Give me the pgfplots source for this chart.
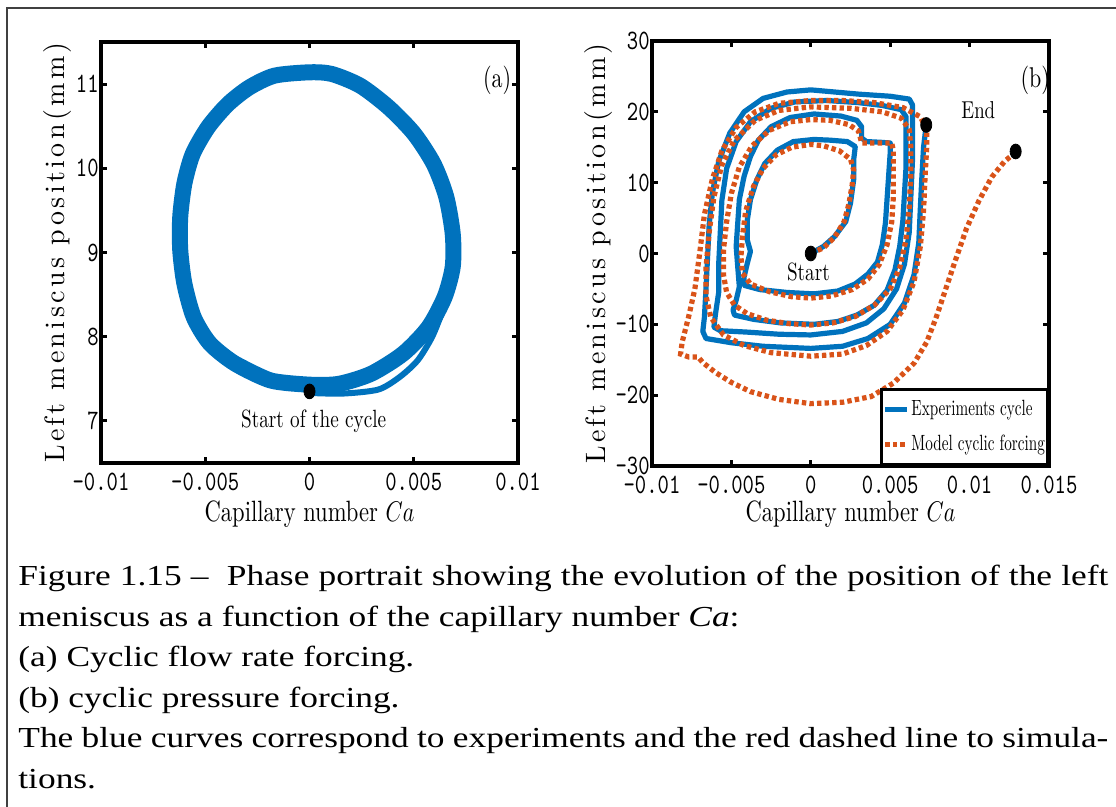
\documentclass[border=0pt]{standalone}
\usepackage{fontspec}
\usepackage{graphicx}
\usepackage{pgfplots}
\pgfplotsset{compat=1.18}
\newfontfamily\capfont[FakeStretch=1.22]{Liberation Serif}
\newfontfamily\lmten[ItalicFont=lmroman10-italic.otf]{lmroman10-regular.otf}
\newfontfamily\lsfont[LetterSpace=12]{lmroman10-regular.otf}
\definecolor{mblue}{RGB}{0,114,189}
\definecolor{mred}{RGB}{217,83,25}
\newcommand{\vs}[1]{\scalebox{1}[1.3]{#1}}
\newcommand{\vl}[1]{\scalebox{1}[1.45]{#1}}
\pgfplotsset{
  panel/.style={
    scale only axis, anchor=south west,
    axis line style={line width=2pt},
    tick style={black, line width=1.5pt},
    major tick length=3pt,
    tick align=inside,
    scaled x ticks=false, scaled y ticks=false,
    tick label style={font=\ttfamily\fontsize{10.8}{12}\selectfont},
    xticklabel style={yshift=-1.5pt},
    yticklabel style={inner xsep=1pt},
    label style={font=\lmten\fontsize{11.3}{13}\selectfont},
    ylabel style={font=\lsfont\fontsize{14}{16}\selectfont, anchor=center},
    clip=true,
  }
}
\begin{document}
\begin{tikzpicture}
\path[use as bounding box] (0,0) rectangle (558pt,403.5pt);
\draw[black!75, line width=0.9pt] (3.5pt,0) -- (3.5pt,399.5pt) -- (560pt,399.5pt);

% ---------------- panel (a)
\begin{axis}[panel, at={(50.5pt,172pt)}, width=208.5pt, height=210.5pt,
  xmin=-0.01, xmax=0.01, ymin=6.5, ymax=11.5,
  xtick={-0.01,-0.005,0,0.005,0.01}, ytick={7,8,9,10,11},
  xticklabels={\vs{-0.01},\vs{-0.005},\vs{0},\vs{0.005},\vs{0.01}},
  yticklabels={\vs{7},\vs{8},\vs{9},\vs{10},\vs{11}},
  xlabel={\vs{Capillary number $Ca$}},
  ylabel={Left meniscus position(mm)},
  xlabel style={at={(axis description cs:0.5,-0.139)}, anchor=base},
  ylabel style={at={(axis description cs:-0.105,0.5)}}]
\addplot[color=mblue, line width=8pt, smooth, tension=0.45] coordinates {
(0,7.43) (-0.00186,7.48) (-0.00357,7.68) (-0.00478,7.92) (-0.00555,8.23)
(-0.00600,8.63) (-0.00620,9.03) (-0.00620,9.42) (-0.00600,9.82) (-0.00560,10.17)
(-0.00486,10.49) (-0.00392,10.76) (-0.00289,10.96) (-0.00168,11.10) (0,11.14)
(0.00107,11.12) (0.00244,10.98) (0.00381,10.72) (0.00502,10.41) (0.00596,10.05)
(0.00656,9.66) (0.00687,9.22) (0.00687,8.83) (0.00648,8.47) (0.00570,8.11)
(0.00450,7.80) (0.00296,7.56) (0.00141,7.44) (0,7.43) (-0.00186,7.48) (-0.00357,7.68)};
\addplot[color=mblue, line width=3pt, smooth, tension=0.45] coordinates {
(0,7.332) (0.00158,7.324) (0.00330,7.372) (0.00433,7.522) (0.00519,7.719)
(0.00588,7.996) (0.00639,8.312) (0.00677,8.628) (0.00700,8.984) (0.00705,9.225)};
\addplot[only marks, mark=*, mark size=3.7pt, mark options={xscale=0.75, black}] coordinates {(0,7.35)};
\node[font=\lmten\fontsize{11}{13}\selectfont] at (axis cs:0.0090,11.04) {\vs{(a)}};
\node[font=\lmten\fontsize{9.6}{12}\selectfont] at (axis cs:0.0002,7.0) {\vs{Start of the cycle}};
\end{axis}

% ---------------- panel (b)
\begin{axis}[panel, at={(326pt,170.5pt)}, width=198.5pt, height=212.5pt,
  xmin=-0.01, xmax=0.015, ymin=-30, ymax=30,
  xtick={-0.01,-0.005,0,0.005,0.01,0.015}, ytick={-30,-20,-10,0,10,20,30},
  xticklabels={\vs{-0.01},\vs{-0.005},\vs{0},\vs{0.005},\vs{0.01},\vs{0.015}},
  yticklabels={\vs{-30},\vs{-20},\vs{-10},\vs{0},\vs{10},\vs{20},\vs{30}},
  xlabel={\vs{Capillary number $Ca$}},
  ylabel={Left meniscus position(mm)},
  xlabel style={at={(axis description cs:0.5,-0.131)}, anchor=base},
  ylabel style={at={(axis description cs:-0.136,0.5)}},
  legend cell align=left,
  legend image code/.code={\draw[#1] (0pt,0pt) -- (11pt,0pt);},
  legend style={at={(1,0)}, anchor=south east, draw=black, line width=1.5pt,
    font=\lmten\fontsize{7.6}{9}\selectfont, inner xsep=0.5pt, inner ysep=4.5pt, row sep=6pt,
    nodes={inner xsep=0.8pt, inner ysep=1pt}}]
\addplot[color=mblue, line width=2.6pt, line join=round] coordinates {
(0,0) (0.0008,1.0) (0.0015,2.4) (0.0022,4.5) (0.0025,7.1) (0.0027,10.4) (0.0027,13.2) (0.0028,15.1)
(0.0023,15.8) (0.0012,16.0) (0.0002,16.1) (-0.0011,15.8) (-0.0021,14.6) (-0.0029,12.7) (-0.0034,10.4)
(-0.0038,7.6) (-0.0040,4.7) (-0.0040,1.9) (-0.0038,0.3) (-0.0040,-1.4) (-0.0042,-3.3) (-0.0042,-4.5)
(-0.0032,-5.1) (-0.0015,-5.5) (0.0002,-5.7) (0.0017,-5.3) (0.0028,-4.3) (0.0036,-2.9) (0.0042,-1.2)
(0.0045,1.2) (0.0047,4.3) (0.0048,7.6) (0.0049,10.9) (0.0050,14.2) (0.0050,15.6) (0.0044,15.7)
(0.0035,15.8) (0.0032,16.3) (0.0032,17.9) (0.0029,18.8) (0.0019,19.4) (0.0002,19.7) (-0.0013,19.2)
(-0.0025,17.9) (-0.0033,16.0) (-0.0038,13.7) (-0.0042,10.9) (-0.0045,7.6) (-0.0046,4.3) (-0.0047,1.0)
(-0.0046,-1.9) (-0.0045,-4.7) (-0.0047,-6.6) (-0.0049,-8.0) (-0.0048,-8.7) (-0.0036,-9.3) (-0.0019,-9.8)
(0.0002,-10.0) (0.0017,-9.6) (0.0029,-8.7) (0.0040,-7.3) (0.0048,-5.2) (0.0053,-2.3) (0.0056,1.0)
(0.0058,4.7) (0.0059,8.5) (0.0060,12.3) (0.0060,16.0) (0.0060,19.3) (0.0057,20.3) (0.0045,20.9)
(0.0030,21.3) (0.0010,21.6) (-0.0010,21.4) (-0.0025,20.5) (-0.0038,18.6) (-0.0047,15.8) (-0.0053,12.0)
(-0.0056,7.5) (-0.0057,3.0) (-0.0058,-1.5) (-0.0058,-5.5) (-0.0060,-8.5) (-0.0061,-10.4) (-0.0057,-10.9)
(-0.0040,-11.1) (-0.0020,-11.4) (0,-11.5) (0.0020,-11.0) (0.0035,-9.8) (0.0046,-7.8) (0.0054,-5.0)
(0.0059,-1.5) (0.0062,3.0) (0.0063,8.0) (0.0064,13.0) (0.0064,17.5) (0.0064,21.0) (0.0062,21.8)
(0.0050,22.2) (0.0030,22.5) (0.0010,22.9) (0,23.1) (-0.0015,22.8) (-0.0030,21.9) (-0.0042,20.0)
(-0.0051,17.0) (-0.0058,13.0) (-0.0062,8.5) (-0.0064,4.0) (-0.0065,-0.5) (-0.0066,-5.0) (-0.0067,-9.0)
(-0.0068,-11.0) (-0.0066,-12.0) (-0.0050,-12.6) (-0.0030,-13.1) (0,-13.4) (0.0020,-13.1) (0.0036,-12.0)
(0.0050,-10.0) (0.0059,-7.0) (0.0065,-3.0) (0.0068,1.5) (0.0069,6.5) (0.0070,11.0) (0.0071,15.0)
(0.00727,18.15)};
\addlegendentry{\vl{Experiments cycle}}
\addplot[color=mred, line width=2.6pt, dash pattern=on 2.2pt off 1.6pt] coordinates {
(0,0) (0.0008,0.8) (0.0015,2.3) (0.0021,4.5) (0.0024,7.0) (0.0026,9.6) (0.0027,11.8) (0.0025,13.3)
(0.0018,14.5) (0.0008,15.2) (0,15.4) (-0.0012,15.0) (-0.0022,13.9) (-0.0030,12.0) (-0.0036,9.5)
(-0.0041,6.0) (-0.0043,2.5) (-0.0044,-0.5) (-0.0043,-2.8) (-0.0038,-4.3) (-0.0026,-5.4) (-0.0012,-6.1)
(0,-6.3) (0.0013,-6.0) (0.0026,-5.1) (0.0036,-3.6) (0.0043,-1.6) (0.0048,1.2) (0.0051,4.5) (0.0052,8.0)
(0.0052,11.5) (0.0052,14.5) (0.0051,15.6) (0.0042,15.6) (0.0032,15.6) (0.0031,16.5) (0.0030,17.3)
(0.0024,18.2) (0.0012,18.8) (0,18.9) (-0.0013,18.6) (-0.0026,17.4) (-0.0037,15.2) (-0.0045,12.2)
(-0.0050,8.5) (-0.0053,4.5) (-0.0055,0.5) (-0.0055,-3.0) (-0.0053,-5.5) (-0.0048,-7.3) (-0.0040,-8.5)
(-0.0028,-9.4) (-0.0014,-9.9) (0,-10.1) (0.0014,-9.8) (0.0028,-8.9) (0.0040,-7.3) (0.0050,-5.0)
(0.0056,-2.0) (0.0060,2.0) (0.0062,6.5) (0.0063,11.0) (0.0063,15.0) (0.0062,17.5) (0.0057,19.1)
(0.0045,20.0) (0.0025,20.5) (0,20.7) (-0.0020,20.2) (-0.0035,18.8) (-0.0048,16.0) (-0.0056,12.5)
(-0.0061,8.0) (-0.0064,3.0) (-0.0066,-2.0) (-0.0066,-6.0) (-0.0063,-9.0) (-0.0055,-11.5) (-0.0042,-13.0)
(-0.0025,-14.0) (0,-14.5) (0.0020,-14.2) (0.0035,-13.0) (0.0048,-11.0) (0.0058,-8.0) (0.0065,-4.0)
(0.0069,1.0) (0.0071,6.0) (0.0072,11.0) (0.0073,15.0) (0.0073,17.5) (0.0069,19.3) (0.0058,20.6)
(0.0040,21.3) (0.0020,21.6) (0,21.6) (-0.0020,21.2) (-0.0035,20.0) (-0.0047,17.8) (-0.0056,14.5)
(-0.0062,10.5) (-0.0067,5.5) (-0.0070,0) (-0.0073,-5.0) (-0.0077,-9.0) (-0.0081,-12.5) (-0.0082,-14.2)
(-0.0077,-14.6) (-0.0071,-14.6) (-0.0068,-15.4) (-0.0060,-16.8) (-0.0050,-18.2) (-0.0038,-19.5)
(-0.0020,-20.6) (0,-21.2) (0.0020,-21.0) (0.0038,-20.2) (0.0052,-18.3) (0.0065,-15.5) (0.0073,-12.5)
(0.0079,-9.0) (0.0085,-5.0) (0.0091,-1.0) (0.0098,3.5) (0.0106,7.5) (0.0114,10.8) (0.0122,13.0)
(0.0129,14.3)};
\addlegendentry{\vl{Model cyclic forcing}}
\addplot[forget plot, only marks, mark=*, mark size=3.7pt, mark options={xscale=0.75, black}] coordinates {
(0,0) (0.00727,18.15) (0.0129,14.4)};
\node[font=\lmten\fontsize{11}{13}\selectfont] at (axis cs:0.01414,24.5) {\vs{(b)}};
\node[font=\lmten\fontsize{9.4}{12}\selectfont] at (axis cs:0.01055,20.3) {\vs{End}};
\node[font=\lmten\fontsize{9.6}{12}\selectfont] at (axis cs:-0.00015,-2.6) {\vs{Start}};
\end{axis}

% ---------------- caption
\node[anchor=north west, inner sep=0pt, text width=545pt, align=justify,
  font=\capfont\fontsize{14.5}{20.25}\selectfont] at (9pt,121pt)
{Figure 1.15 –\ \ Phase portrait showing the evolution of the position of the left\linebreak
meniscus as a function of the capillary number \textit{Ca}:\\
(a) Cyclic flow rate forcing.\\
(b) cyclic pressure forcing.\\
The blue curves correspond to experiments and the red dashed line to simula-\linebreak
tions.};
\end{tikzpicture}
\end{document}
